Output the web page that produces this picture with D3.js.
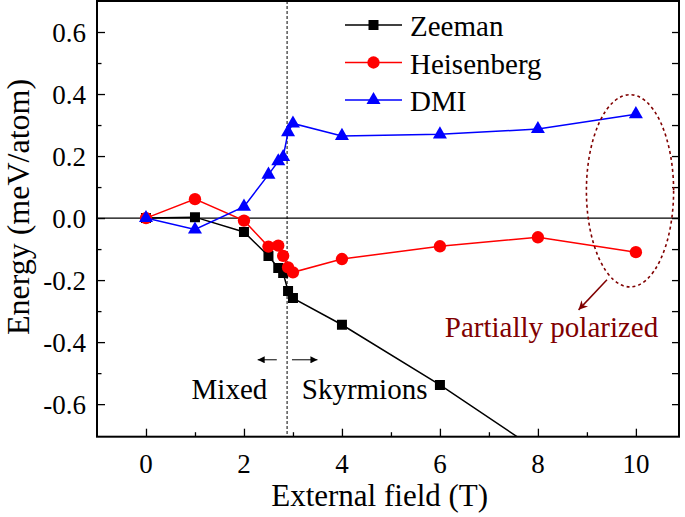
<!DOCTYPE html>
<html>
<head>
<meta charset="utf-8">
<script src="https://cdn.jsdelivr.net/npm/d3@7"></script>
<style>
  html, body { margin: 0; padding: 0; background: #fff; }
  svg text { font-family: "Liberation Serif"; }
</style>
</head>
<body>
<svg id="chart" width="685" height="517"></svg>
<script>
// ---- data ----
const fieldT = [0, 1, 2, 2.5, 2.7, 2.8, 2.9, 3, 4, 6, 8, 10];
const zeeman = [0, 0.003, -0.045, -0.122, -0.161, -0.177, -0.235, -0.258, -0.344, -0.538, -0.75, -0.96];
const heisenberg = [0, 0.061, -0.008, -0.092, -0.089, -0.122, -0.159, -0.175, -0.132, -0.091, -0.062, -0.11];
const dmi = [0, -0.037, 0.037, 0.14, 0.183, 0.197, 0.277, 0.305, 0.265, 0.27, 0.287, 0.335];
const seriesNames = ["Zeeman", "Heisenberg", "DMI"];
const xTicksMajor = [0, 2, 4, 6, 8, 10];
const xTicksMinor = [1, 3, 5, 7, 9];
const yTicksMajor = [-0.6, -0.4, -0.2, 0.0, 0.2, 0.4, 0.6];
const yTicksMinor = [-0.5, -0.3, -0.1, 0.1, 0.3, 0.5];
const boundaryField = 2.88;

// ---- setup ----
const svg = d3.select("#chart");
const L = 97, R = 679, T = 1, B = 436.7;
const x = d3.scaleLinear().domain([-1, 10.88]).range([L, R]);
const y = d3.scaleLinear().domain([-0.705, 0.70]).range([B, T]);

const defs = svg.append("defs");
defs.append("clipPath").attr("id", "clip").append("rect")
  .attr("x", L).attr("y", T).attr("width", R - L).attr("height", B - T);
defs.append("marker").attr("id", "arrK").attr("viewBox", "0 0 10 10")
  .attr("refX", 10).attr("refY", 5).attr("markerWidth", 10).attr("markerHeight", 7)
  .attr("markerUnits", "userSpaceOnUse").attr("orient", "auto")
  .append("path").attr("d", "M0,0 L10,5 L0,10 Z").attr("fill", "#000");
defs.append("marker").attr("id", "arrR").attr("viewBox", "0 0 10 10")
  .attr("refX", 10).attr("refY", 5).attr("markerWidth", 12).attr("markerHeight", 9)
  .attr("markerUnits", "userSpaceOnUse").attr("orient", "auto")
  .append("path").attr("d", "M0,0 L10,5 L0,10 L3,5 Z").attr("fill", "#800000");

function txt(size) {
  return svg.append("text").attr("font-family", "Liberation Serif")
    .attr("font-size", size).attr("fill", "#000");
}

// zero line
svg.append("line").attr("x1", L).attr("x2", R).attr("y1", y(0)).attr("y2", y(0))
  .attr("stroke", "#000").attr("stroke-width", 1.3);

// dashed boundary
svg.append("line").attr("x1", x(boundaryField)).attr("x2", x(boundaryField))
  .attr("y1", T).attr("y2", B).attr("stroke", "#000").attr("stroke-width", 1)
  .attr("stroke-dasharray", "3,2");

// axes (ticks inside, labels drawn separately)
function addAxis(axisFn, scale, vals, size, transform) {
  svg.append("g").attr("transform", transform)
    .call(axisFn(scale).tickValues(vals).tickSize(size).tickFormat(""))
    .call(g => g.select(".domain").remove())
    .call(g => g.selectAll("text").remove())
    .call(g => g.selectAll("line").attr("stroke", "#000").attr("stroke-width", 1.3));
}
addAxis(d3.axisBottom, x, xTicksMajor, -8, `translate(0,${B})`);
addAxis(d3.axisBottom, x, xTicksMinor, -4.5, `translate(0,${B})`);
addAxis(d3.axisLeft, y, yTicksMajor, -8, `translate(${L},0)`);
addAxis(d3.axisLeft, y, yTicksMinor, -4.5, `translate(${L},0)`);
addAxis(d3.axisRight, y, yTicksMajor, -7, `translate(${R},0)`);
addAxis(d3.axisRight, y, yTicksMinor, -7, `translate(${R},0)`);

// tick labels
xTicksMajor.forEach(d => {
  txt(27).attr("x", x(d)).attr("y", 473).attr("text-anchor", "middle").text(d3.format("d")(d));
});
yTicksMajor.forEach(d => {
  txt(27).attr("x", 86).attr("y", y(d) + 9.5).attr("text-anchor", "end")
    .text(d3.format(".1f")(d).replace("\u2212", "-"));
});

// axis titles
txt(31).attr("x", x(4.77)).attr("y", 506).attr("text-anchor", "middle").text("External field (T)");
txt(32).attr("transform", `translate(29,207) rotate(-90)`).attr("text-anchor", "middle").text("Energy (meV/atom)");

// series
const series = [
  { name: seriesNames[0], vals: zeeman, color: "#000000", shape: d3.symbolSquare, size: 100 },
  { name: seriesNames[1], vals: heisenberg, color: "#ff0000", shape: d3.symbolCircle, size: 120 },
  { name: seriesNames[2], vals: dmi, color: "#0000ff", shape: d3.symbolTriangle, size: 85 }
];
const line = d3.line().x(d => x(d[0])).y(d => y(d[1]));
const plot = svg.append("g").attr("clip-path", "url(#clip)");
series.forEach(s => {
  const pts = fieldT.map((f, i) => [f, s.vals[i]]);
  plot.append("path").attr("d", line(pts)).attr("fill", "none")
    .attr("stroke", s.color).attr("stroke-width", 1.5);
  plot.append("g").selectAll("path").data(pts).join("path")
    .attr("transform", d => `translate(${x(d[0])},${y(d[1])})`)
    .attr("d", d3.symbol().type(s.shape).size(s.size)).attr("fill", s.color);
});

// frame
svg.append("rect").attr("x", L).attr("y", T).attr("width", R - L).attr("height", B - T)
  .attr("fill", "none").attr("stroke", "#000").attr("stroke-width", 2);

// legend
series.forEach((s, i) => {
  const yy = 25 + i * 37.5;
  svg.append("line").attr("x1", 345).attr("x2", 402).attr("y1", yy).attr("y2", yy)
    .attr("stroke", s.color).attr("stroke-width", 1.5);
  svg.append("path").attr("transform", `translate(373.5,${yy})`)
    .attr("d", d3.symbol().type(s.shape).size(s.size)).attr("fill", s.color);
  txt(29).attr("x", 410).attr("y", yy + 11).text(s.name);
});

// phase annotations
txt(29).attr("x", x(0.93)).attr("y", 399).text("Mixed");
txt(29).attr("x", x(3.18)).attr("y", 399).text("Skyrmions");
svg.append("line").attr("x1", x(2.67)).attr("x2", x(2.28)).attr("y1", y(-0.457)).attr("y2", y(-0.457))
  .attr("stroke", "#000").attr("stroke-width", 1).attr("marker-end", "url(#arrK)");
svg.append("line").attr("x1", x(2.98)).attr("x2", x(3.5)).attr("y1", y(-0.457)).attr("y2", y(-0.457))
  .attr("stroke", "#000").attr("stroke-width", 1).attr("marker-end", "url(#arrK)");

// partially polarized annotation
svg.append("ellipse").attr("cx", x(9.88)).attr("cy", y(0.088))
  .attr("rx", x(9.88 + 0.89) - x(9.88)).attr("ry", y(0.088) - y(0.088 + 0.31))
  .attr("fill", "none").attr("stroke", "#800000").attr("stroke-width", 1.6)
  .attr("stroke-dasharray", "3,3");
svg.append("line").attr("x1", x(9.41)).attr("y1", y(-0.199)).attr("x2", x(8.83)).attr("y2", y(-0.296))
  .attr("stroke", "#800000").attr("stroke-width", 1.5).attr("marker-end", "url(#arrR)");
txt(29).attr("x", x(6.1)).attr("y", 337).attr("fill", "#800000").text("Partially polarized");
</script>
</body>
</html>
